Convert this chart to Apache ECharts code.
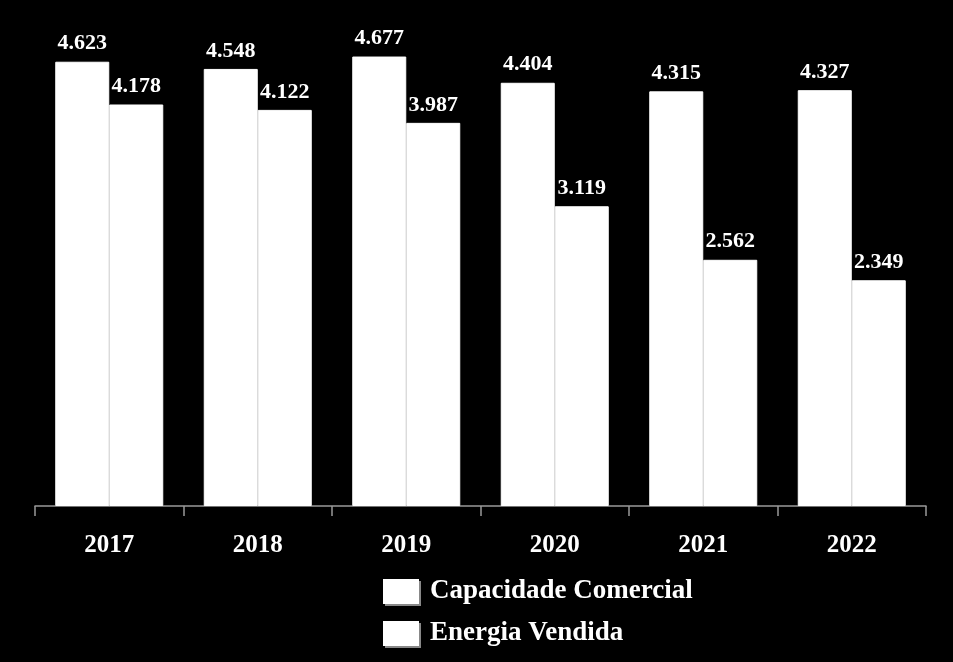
<!DOCTYPE html>
<html><head><meta charset="utf-8">
<script src="https://cdn.jsdelivr.net/npm/echarts@6/dist/echarts.min.js"></script>
<style>html,body{margin:0;padding:0;background:#000}#c{width:953px;height:662px}</style>
</head><body><div id="c"></div>
<script>
const categories = ['2017','2018','2019','2020','2021','2022'];
const capacidade = [4.623, 4.548, 4.677, 4.404, 4.315, 4.327];
const energia = [4.178, 4.122, 3.987, 3.119, 2.562, 2.349];
const seriesNames = ['Capacidade Comercial', 'Energia Vendida'];

const font = '"Liberation Serif", "DejaVu Serif", serif';
const chart = echarts.init(document.getElementById('c'));
const label = {
  show: true, position: 'top', distance: 7, color: '#fff',
  fontFamily: font, fontWeight: 'bold', fontSize: 22,
  formatter: p => p.value.toFixed(3)
};
const barStyle = { color: '#fff', borderColor: '#fff', borderWidth: 1 };
chart.setOption({
  backgroundColor: '#000',
  animation: false,
  grid: { left: 35, right: 27, top: 25.5, bottom: 156 },
  legend: {
    orient: 'vertical', left: 378, top: 573,
    itemWidth: 36, itemHeight: 25, itemGap: 15,
    icon: 'rect',
    textStyle: { color: '#fff', fontFamily: font, fontSize: 27, fontWeight: 'bold', padding: [0,0,0,6] },
    itemStyle: { color: '#fff', borderWidth: 0, shadowColor: '#888', shadowOffsetX: 2, shadowOffsetY: 2 },
    data: seriesNames
  },
  xAxis: {
    type: 'category', data: categories,
    axisLine: { lineStyle: { color: '#999', width: 1.5 } },
    axisTick: { show: true, length: 10, lineStyle: { color: '#999', width: 1.5 } },
    axisLabel: { color: '#fff', fontFamily: font, fontWeight: 'bold', fontSize: 25, margin: 27 }
  },
  yAxis: { type: 'value', min: 0, max: 5, show: false, splitLine: { show: false } },
  series: [
    { name: seriesNames[0], type: 'bar', data: capacidade, itemStyle: barStyle,
      barWidth: 54, barGap: '0%', label: label },
    { name: seriesNames[1], type: 'bar', data: energia, itemStyle: barStyle,
      barWidth: 54, barGap: '0%', label: label }
  ]
});
</script></body></html>
